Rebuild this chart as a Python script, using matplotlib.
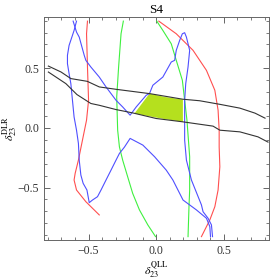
import matplotlib
matplotlib.use("Agg")
import matplotlib.pyplot as plt
from matplotlib.ticker import MultipleLocator

plt.rcParams['font.family'] = ['Liberation Serif', 'DejaVu Serif']
plt.rcParams['mathtext.fontset'] = 'stix'

# two black band edges
black_upper_x = [-0.797, -0.703, -0.631, -0.510, -0.421, -0.297, -0.050, 0.195, 0.321, 0.470, 0.618, 0.730, 0.804]
black_upper_y = [0.519, 0.469, 0.414, 0.391, 0.344, 0.324, 0.288, 0.241, 0.228, 0.198, 0.166, 0.124, 0.082]
black_lower_x = [-0.797, -0.668, -0.586, -0.483, -0.421, -0.297, -0.174, 0.0, 0.197, 0.420, 0.470, 0.618, 0.752, 0.826]
black_lower_y = [0.469, 0.372, 0.280, 0.205, 0.190, 0.154, 0.126, 0.079, 0.051, 0.015, -0.019, -0.033, -0.075, -0.119]

# allowed region
fill_x = [-0.161, -0.050, 0.062, 0.197, 0.197, 0.037]
fill_y = [0.121, 0.288, 0.260, 0.238, 0.051, 0.079]

green_left_x = [-0.243, -0.260, -0.278, -0.292, -0.285, -0.272, -0.248, -0.211, -0.174, -0.124, -0.062, -0.005]
green_left_y = [0.896, 0.790, 0.511, 0.260, -0.019, -0.159, -0.270, -0.410, -0.549, -0.688, -0.814, -0.912]
green_right_x = [0.004, 0.049, 0.111, 0.148, 0.193, 0.210, 0.227, 0.247, 0.247, 0.242, 0.235]
green_right_y = [0.896, 0.818, 0.706, 0.567, 0.400, 0.232, 0.065, -0.242, -0.521, -0.661, -0.912]

red_left_x = [-0.508, -0.515, -0.508, -0.500, -0.515, -0.550, -0.575, -0.599, -0.607, -0.589, -0.520, -0.421]
red_left_y = [0.896, 0.790, 0.511, 0.232, 0.065, -0.130, -0.270, -0.381, -0.437, -0.521, -0.619, -0.730]
red_right_x = [0.019, 0.148, 0.272, 0.371, 0.433, 0.457, 0.465, 0.465, 0.470, 0.457, 0.433, 0.396, 0.334]
red_right_y = [0.896, 0.790, 0.651, 0.483, 0.316, 0.149, -0.019, -0.159, -0.326, -0.521, -0.661, -0.772, -0.912]

blue_a_x = [-0.614, -0.589, -0.569, -0.532, -0.520, -0.483, -0.421, -0.371, -0.297, -0.248, -0.193,
            -0.148, -0.074, -0.050, -0.025, 0.049, 0.111, 0.136, 0.148, 0.173, 0.193, 0.210, 0.223,
            0.247, 0.235, 0.218, 0.210, 0.210, 0.210, 0.223, 0.260, 0.334, 0.346, 0.383, 0.408, 0.416]
blue_a_y = [0.896, 0.804, 0.762, 0.609, 0.567, 0.511, 0.427, 0.344, 0.232, 0.176, 0.107,
            0.176, 0.274, 0.288, 0.358, 0.427, 0.553, 0.567, 0.651, 0.734, 0.790, 0.799, 0.762,
            0.651, 0.511, 0.372, 0.232, 0.092, -0.103, -0.270, -0.437, -0.646, -0.703, -0.758, -0.814, -0.912]
blue_b_x = [-0.589, -0.607, -0.644, -0.656, -0.656, -0.644, -0.631, -0.619, -0.607, -0.589, -0.575,
            -0.569, -0.557, -0.540, -0.512, -0.495, -0.471, -0.434, -0.408, -0.371, -0.334, -0.297,
            -0.272, -0.235, -0.193, -0.099, -0.012, 0.074, 0.123, 0.198, 0.297, 0.371, 0.396, 0.401]
blue_b_y = [0.896, 0.818, 0.692, 0.609, 0.539, 0.456, 0.372, 0.232, 0.092, -0.019, -0.130,
            -0.270, -0.395, -0.465, -0.521, -0.627, -0.605, -0.577, -0.521, -0.437, -0.354, -0.270,
            -0.214, -0.161, -0.088, -0.144, -0.242, -0.354, -0.437, -0.605, -0.688, -0.758, -0.828, -0.912]

fig = plt.figure(figsize=(2.71, 2.80), dpi=100)
ax = fig.add_axes([0.162, 0.143, 0.829, 0.796])

ax.fill(fill_x, fill_y, color='#b5e01e', lw=0)
lw = 0.8
ax.plot(red_left_x, red_left_y, color='#ff4f4f', lw=lw)
ax.plot(red_right_x, red_right_y, color='#ff4f4f', lw=lw)
ax.plot(green_left_x, green_left_y, color='#3ff03f', lw=lw)
ax.plot(green_right_x, green_right_y, color='#3ff03f', lw=lw)
ax.plot(blue_a_x, blue_a_y, color='#4f4fff', lw=lw)
ax.plot(blue_b_x, blue_b_y, color='#4f4fff', lw=lw)
ax.plot(black_upper_x, black_upper_y, color='#333333', lw=lw)
ax.plot(black_lower_x, black_lower_y, color='#333333', lw=lw)

ax.set_xlim(-0.83, 0.83)
ax.set_ylim(-0.94, 0.93)
ax.xaxis.set_major_locator(MultipleLocator(0.5))
ax.yaxis.set_major_locator(MultipleLocator(0.5))
ax.xaxis.set_minor_locator(MultipleLocator(0.1))
ax.yaxis.set_minor_locator(MultipleLocator(0.1))
ax.xaxis.set_major_formatter(lambda v, p: f"{v:.1f}".replace('-', '\u2212'))
ax.yaxis.set_major_formatter(lambda v, p: f"{v:.1f}".replace('-', '\u2212'))
ax.tick_params(which='both', direction='in', top=True, right=True, color='#666666',
               labelcolor='#333333', labelsize=8.5)
ax.tick_params(which='major', length=4, width=0.7)
ax.tick_params(which='minor', length=2.2, width=0.6)
for s in ax.spines.values():
    s.set_color('#666666')
    s.set_linewidth(0.7)

ax.set_title('S4', fontsize=9.5, pad=3)
ax.set_xlabel(r'$\delta_{23}^{\rm QLL}$', fontsize=8.5, labelpad=2)
ax.set_ylabel(r'$\delta_{23}^{\rm DLR}$', fontsize=8.5, labelpad=-1)

fig.savefig('out.png', dpi=100)
